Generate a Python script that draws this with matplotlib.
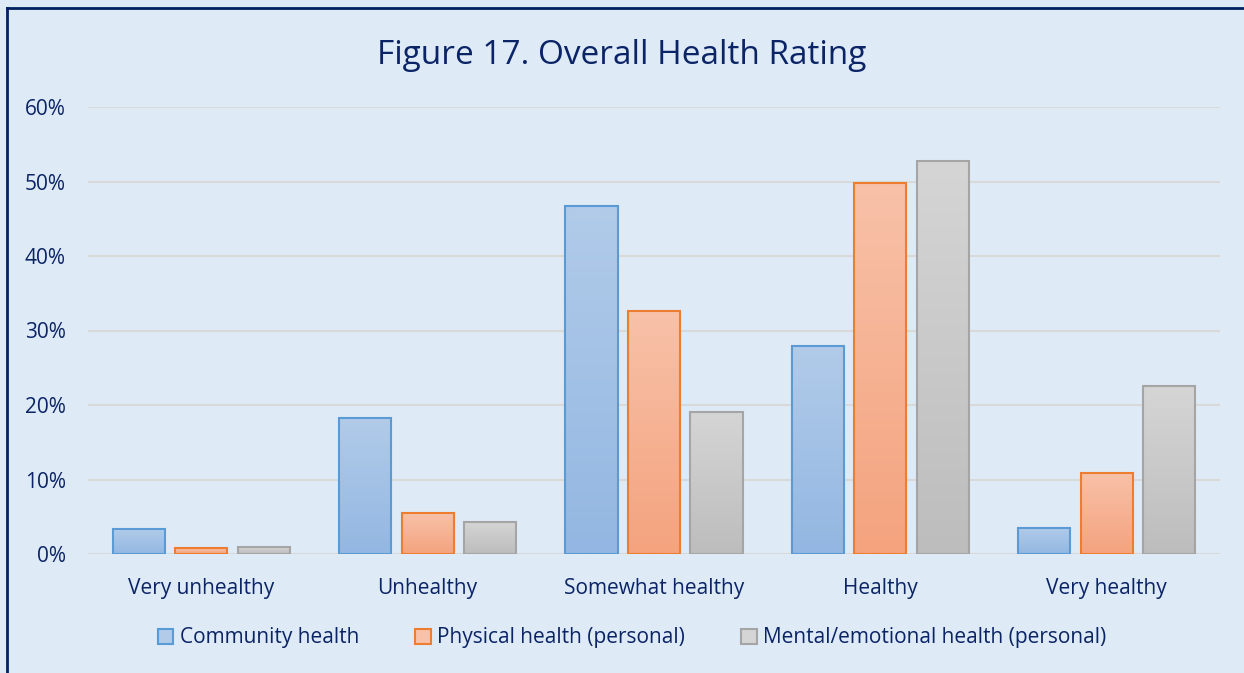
import numpy as np
import matplotlib
matplotlib.use('Agg')
import matplotlib.pyplot as plt
from matplotlib.patches import Patch
from matplotlib.lines import Line2D
from matplotlib.colors import to_rgb

# data (percent)
categories = ['Very unhealthy', 'Unhealthy', 'Somewhat healthy', 'Healthy', 'Very healthy']
series_names = ['Community health', 'Physical health (personal)', 'Mental/emotional health (personal)']
community = [3.3, 18.2, 46.7, 27.9, 3.5]
physical = [0.8, 5.5, 32.6, 49.8, 10.9]
mental = [1.0, 4.3, 19.1, 52.8, 22.5]
yticks = [0, 10, 20, 30, 40, 50, 60]

# style: (gradient top, gradient bottom, edge)
styles = [('#B1CBE9', '#93B7E2', '#5B9BD5'),
          ('#F8C1A8', '#F4A37E', '#ED7D31'),
          ('#D5D5D5', '#BDBDBD', '#A5A5A5')]

bg = '#DEEAF6'
navy = '#0B2466'
plt.rcParams['font.family'] = ['Open Sans', 'DejaVu Sans']

W, H = 1244, 673
fig = plt.figure(figsize=(W / 100, H / 100), dpi=100, facecolor=bg)
ax = fig.add_axes([88 / W, (H - 554) / H, (1220 - 88) / W, (554 - 107) / H])
ax.set_facecolor(bg)

x = np.arange(len(categories))
offsets = [-0.276, 0, 0.276]
width = 0.23

for vals, off, (top, bot, edge) in zip([community, physical, mental], offsets, styles):
    bars = ax.bar(x + off, vals, width, facecolor='none', edgecolor=edge, linewidth=1.5, zorder=3)
    ctop, cbot = np.array(to_rgb(top)), np.array(to_rgb(bot))
    t = np.linspace(0, 1, 64)[:, None]
    grad = (ctop * (1 - t) + cbot * t)[:, None, :]
    for b, v in zip(bars, vals):
        x0 = b.get_x()
        ax.imshow(grad, extent=[x0, x0 + width, 0, v], aspect='auto',
                  origin='upper', zorder=2, interpolation='bilinear')

ax.set_xlim(-0.5, len(categories) - 0.5)
ax.set_ylim(0, 60)
ax.set_yticks(yticks)
ax.set_yticklabels([f'{v}%' for v in yticks])
ax.set_xticks(x)
ax.set_xticklabels(categories)
ax.tick_params(length=0, labelsize=15, colors=navy)
ax.tick_params(axis='x', pad=17)
ax.tick_params(axis='y', pad=16)
ax.grid(axis='y', color='#D9D9D9', linewidth=1.5, zorder=0)
ax.set_axisbelow(True)
for s in ax.spines.values():
    s.set_visible(False)

fig.text(0.5, (H - 55) / H, 'Figure 17. Overall Health Rating', ha='center', va='center',
         fontsize=24, color=navy)

handles = [Patch(facecolor=st[0], edgecolor=st[2], linewidth=1.5) for st in styles]
fig.legend(handles, series_names, loc='center', bbox_to_anchor=(0.5 + 10 / W, (H - 638) / H),
           ncol=3, frameon=False, fontsize=15, labelcolor=navy, handlelength=0.75,
           handleheight=0.75, handletextpad=0.3, columnspacing=2.7)

# left and top border
fig.add_artist(Line2D([6.5 / W, 6.5 / W], [0, 1 - 8 / H], transform=fig.transFigure, color='#002060', linewidth=2))
fig.add_artist(Line2D([6.5 / W, 1], [1 - 8 / H, 1 - 8 / H], transform=fig.transFigure, color='#002060', linewidth=2))

fig.savefig('out.png', dpi=100, facecolor=bg)
